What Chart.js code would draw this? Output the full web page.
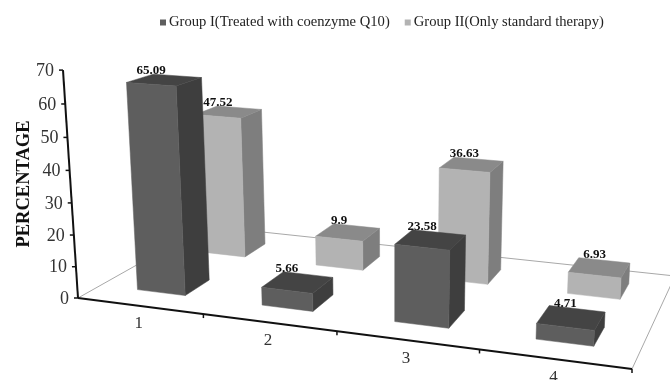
<!DOCTYPE html>
<html>
<head>
<meta charset="utf-8">
<title>Percentage by group</title>
<script src="https://cdn.jsdelivr.net/npm/chart.js@4"></script>
<style>
  html, body { margin: 0; background: #fff; }
  canvas { display: block; }
</style>
</head>
<body>
<canvas id="myChart" width="670" height="380"></canvas>
<script>
const categories = ['1', '2', '3', '4'];
const groupOneLabel = 'Group I(Treated with coenzyme Q10)';
const groupTwoLabel = 'Group II(Only standard therapy)';
const groupOne = [65.09, 5.66, 23.58, 4.71];
const groupTwo = [47.52, 9.9, 36.63, 6.93];

const serif = '"Liberation Serif", serif';

// floor of the 3d box on screen, and the point the verticals run to
const floorFront = [[78, 298], [632, 369]];
const floorBack = [[206, 226], [675, 276]];
const vanish = [392, 5068];
const heightFall = -0.0456 / 70;

// unit square -> floor quad
function floorMatrix() {
  const [[x0, y0], [x1, y1]] = floorFront;
  const [[x3, y3], [x2, y2]] = floorBack;
  const sx = x0 - x1 + x2 - x3, sy = y0 - y1 + y2 - y3;
  const dx1 = x1 - x2, dx2 = x3 - x2, dy1 = y1 - y2, dy2 = y3 - y2;
  const den = dx1 * dy2 - dx2 * dy1;
  const g = (sx * dy2 - dx2 * sy) / den;
  const h = (dx1 * sy - sx * dy1) / den;
  return [x1 - x0 + g * x1, x3 - x0 + h * x3, x0, y1 - y0 + g * y1, y3 - y0 + h * y3, y0, g, h];
}
const m = floorMatrix();

// u along the categories, d into the depth (both 0..1), v in axis units
function project(u, d, v) {
  const k = v * heightFall;
  const w = m[6] * u + m[7] * d + 1 + k;
  return [
    (m[0] * u + m[1] * d + m[2] + k * vanish[0]) / w,
    (m[3] * u + m[4] * d + m[5] + k * vanish[1]) / w
  ];
}

function face(ctx, pts, color) {
  ctx.beginPath();
  pts.forEach((p, i) => i ? ctx.lineTo(p[0], p[1]) : ctx.moveTo(p[0], p[1]));
  ctx.closePath();
  ctx.fillStyle = color;
  ctx.strokeStyle = color;
  ctx.lineWidth = 0.5;
  ctx.fill();
  ctx.stroke();
}

function line(ctx, a, b, color, width) {
  ctx.beginPath();
  ctx.moveTo(a[0], a[1]);
  ctx.lineTo(b[0], b[1]);
  ctx.strokeStyle = color;
  ctx.lineWidth = width;
  ctx.stroke();
}

// rows sit one behind the other, so bars are painted as boxes
class Bar3d extends Chart.BarController {
  draw() {
    const chart = this.chart, ctx = chart.ctx, area = chart.chartArea;
    const ds = this.getDataset();
    const rows = chart.data.datasets.length;
    const d0 = (this.index + 0.5 - ds.depth / 2) / rows;
    const d1 = (this.index + 0.5 + ds.depth / 2) / rows;
    this.getMeta().data.forEach(bar => {
      const u0 = (bar.x - bar.width / 2 - area.left) / area.width;
      const u1 = (bar.x + bar.width / 2 - area.left) / area.width;
      const v = this.getMeta().vScale.getValueForPixel(bar.y);
      face(ctx, [project(u1, d0, 0), project(u1, d1, 0), project(u1, d1, v), project(u1, d0, v)], ds.sideColor);
      face(ctx, [project(u0, d0, v), project(u1, d0, v), project(u1, d1, v), project(u0, d1, v)], ds.topColor);
      face(ctx, [project(u0, d0, 0), project(u1, d0, 0), project(u1, d0, v), project(u0, d0, v)], ds.backgroundColor);
    });
  }
}
Bar3d.id = 'bar3d';
Bar3d.defaults = Chart.BarController.defaults;
Chart.register(Bar3d);

const box3d = {
  id: 'box3d',
  // floor lines and both axes, under the bars
  beforeDatasetsDraw(chart) {
    const ctx = chart.ctx, xs = chart.scales.x, ys = chart.scales.y;
    const grey = '#a8a8a8', dark = '#111';
    line(ctx, project(0, 0, 0), project(0, 1, 0), grey, 1);
    line(ctx, project(0, 1, 0), project(1, 1, 0), grey, 1);
    line(ctx, project(1, 0, 0), project(1, 1, 0), grey, 1);

    line(ctx, project(0, 0, 0), project(1, 0, 0), dark, 2);
    line(ctx, project(0, 0, 0), project(0, 0, ys.max), dark, 2);

    ctx.save();
    ctx.fillStyle = '#333';
    ctx.textBaseline = 'middle';
    ctx.textAlign = 'right';
    ctx.font = '18px ' + serif;
    ys.ticks.forEach(t => {
      const p = project(0, 0, t.value);
      line(ctx, p, [p[0] - 4, p[1]], dark, 1.5);
      ctx.fillText(t.label, p[0] - 9, p[1] + 1);
    });

    ctx.textAlign = 'center';
    ctx.font = '17px ' + serif;
    xs.ticks.forEach((t, i) => {
      const end = project((i + 1) / xs.ticks.length, 0, 0);
      line(ctx, end, [end[0], end[1] + 4], dark, 1.5);
      const mid = project((i + 0.5) / xs.ticks.length, 0, 0);
      ctx.fillText(t.label, mid[0] - 1, mid[1] + 18);
    });

    ctx.translate(24, 184);
    ctx.rotate(-Math.PI / 2);
    ctx.font = 'bold 18.5px ' + serif;
    ctx.fillStyle = '#111';
    ctx.fillText('PERCENTAGE', 0, 0);
    ctx.restore();
  },
  afterDatasetsDraw(chart) {
    const ctx = chart.ctx, area = chart.chartArea;
    ctx.save();
    ctx.fillStyle = '#111';
    ctx.textAlign = 'center';
    ctx.textBaseline = 'bottom';
    ctx.font = 'bold 13px ' + serif;
    // value labels: centred on the front edge, sitting on the back edge
    chart.data.datasets.forEach((ds, r) => {
      const meta = chart.getDatasetMeta(r);
      const d0 = (r + 0.5 - ds.depth / 2) / chart.data.datasets.length;
      const d1 = (r + 0.5 + ds.depth / 2) / chart.data.datasets.length;
      meta.data.forEach((bar, i) => {
        const u = (bar.x - area.left) / area.width;
        const front = project(u, d0, ds.data[i]);
        const back = project(u, d1, ds.data[i]);
        ctx.fillText(String(ds.data[i]), front[0], back[1] + 1);
      });
    });

    // legend, markers tight against the text
    ctx.textAlign = 'left';
    ctx.textBaseline = 'middle';
    ctx.font = '14.6px ' + serif;
    let x = 160;
    chart.data.datasets.forEach(ds => {
      ctx.fillStyle = ds.backgroundColor;
      ctx.fillRect(x, 19.5, 6, 6);
      ctx.fillStyle = '#222';
      ctx.fillText(ds.label, x + 9, 22.5);
      x += 9 + ctx.measureText(ds.label).width + 15;
    });
    ctx.restore();
  }
};

const graphData = {
  type: 'bar3d',
  data: {
    labels: categories,
    datasets: [
      {
        label: groupOneLabel,
        data: groupOne,
        backgroundColor: '#5e5e5e',
        sideColor: '#3e3e3e',
        topColor: '#444444',
        depth: 0.38,
        grouped: false,
        barPercentage: 0.39,
        categoryPercentage: 1
      },
      {
        label: groupTwoLabel,
        data: groupTwo,
        backgroundColor: '#b3b3b3',
        sideColor: '#7e7e7e',
        topColor: '#8a8a8a',
        depth: 0.38,
        grouped: false,
        barPercentage: 0.39,
        categoryPercentage: 1
      }
    ]
  },
  options: {
    responsive: false,
    animation: false,
    plugins: { legend: { display: false }, tooltip: { enabled: false } },
    scales: {
      x: { type: 'category', offset: true, display: false },
      y: { type: 'linear', min: 0, max: 70, ticks: { stepSize: 10 }, display: false }
    }
  },
  plugins: [box3d]
};

const myChart = new Chart(document.querySelector('#myChart'), graphData);
</script>
</body>
</html>
